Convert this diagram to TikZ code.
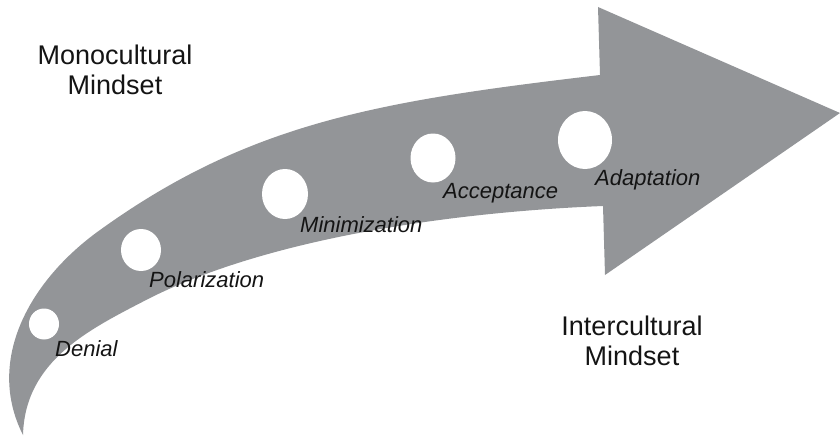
\documentclass[tikz,border=0pt]{standalone}
\usepackage{fontspec}
\setmainfont{Liberation Sans}
\usetikzlibrary{shapes.geometric}
\definecolor{arrowgray}{RGB}{147,149,152}

\begin{document}
\begin{tikzpicture}[x=1pt,y=-1pt,
	stage/.style={ellipse,fill=white,inner sep=0pt},
	stagename/.style={anchor=base west,inner sep=0pt,font=\fontsize{22}{26}\selectfont\itshape,text=black!92},
	mindset/.style={align=center,inner sep=0pt,font=\fontsize{27}{29.5}\selectfont,text=black!92}]
	\useasboundingbox (0,0) rectangle (840,436);
	% curved arrow
	\fill[arrowgray] (23,435) .. controls (-15,360) and (30,280) .. (100,230)
		.. controls (250,122) and (380,101) .. (600,75)
		-- (598,7) -- (840,113) -- (605,275) -- (603,206)
		.. controls (453,212) and (270,238) .. (150,298)
		.. controls (90,329) and (25,360) .. (23,435) -- cycle;
	% stages
	\node[stage,minimum width=30,minimum height=31] (denial) at (44,324) {};
	\node[stage,minimum width=40,minimum height=42] (polar) at (141,250) {};
	\node[stage,minimum width=46,minimum height=50] (minim) at (285,194) {};
	\node[stage,minimum width=45,minimum height=49] (accept) at (433,158) {};
	\node[stage,minimum width=54,minimum height=58] (adapt) at (585,140) {};
	\node[stagename] (denialname) at (55,356) {Denial};
	\node[stagename] (polarname) at (149,287) {Polarization};
	\node[stagename] (minimname) at (300,232) {Minimization};
	\node[stagename] (acceptname) at (443,198) {Acceptance};
	\node[stagename] (adaptname) at (595,185) {Adaptation};
	% mindsets
	\node[mindset] (mono) at (115,70) {Monocultural\\Mindset};
	\node[mindset] (inter) at (632,341) {Intercultural\\Mindset};
\end{tikzpicture}
\end{document}
